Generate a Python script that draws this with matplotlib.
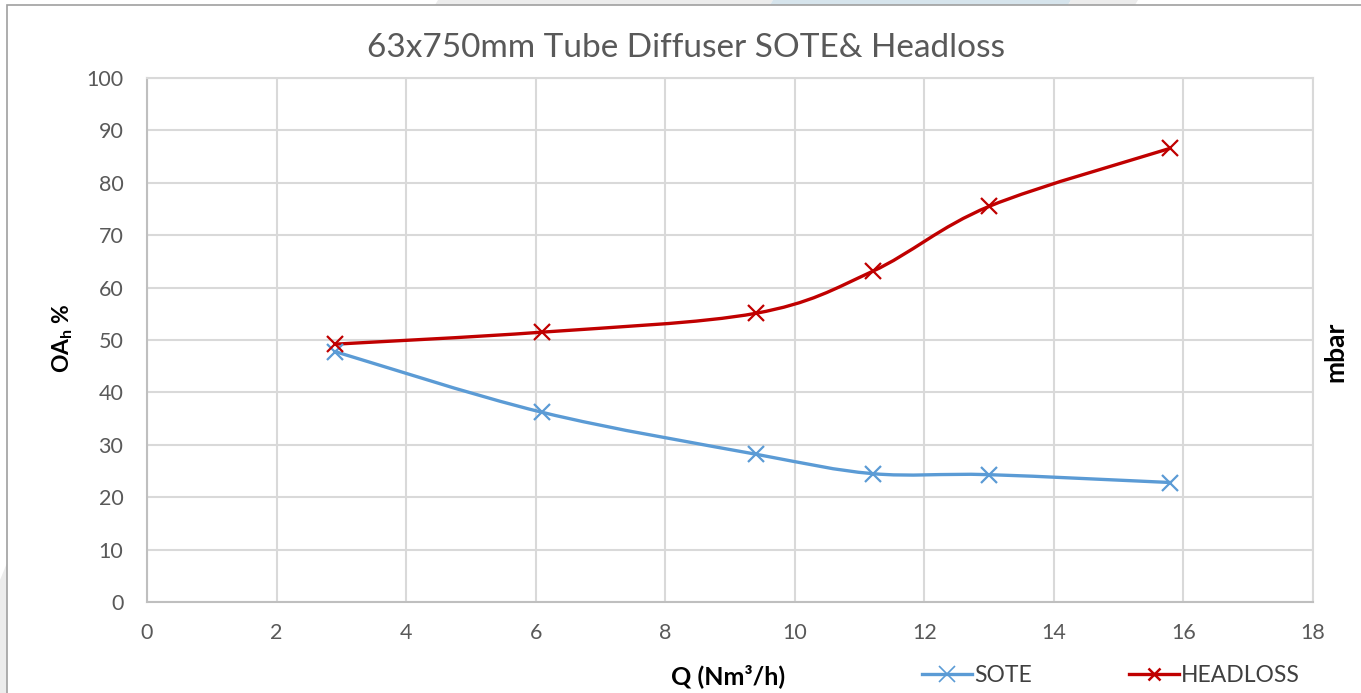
import matplotlib
matplotlib.use("Agg")
import matplotlib.pyplot as plt
from matplotlib.path import Path
from matplotlib.patches import PathPatch, Rectangle, Polygon
from matplotlib.lines import Line2D
import numpy as np

plt.rcParams['font.family'] = ['Lato', 'DejaVu Sans']

title = "63x750mm Tube Diffuser SOTE& Headloss"
q_flow = [2.9, 6.1, 9.4, 11.2, 13.0, 15.8]
sote = [47.8, 36.2, 28.2, 24.5, 24.3, 22.8]
headloss = [49.2, 51.5, 55.1, 63.1, 75.5, 86.6]
x_ticks = [0, 2, 4, 6, 8, 10, 12, 14, 16, 18]
y_ticks = [0, 10, 20, 30, 40, 50, 60, 70, 80, 90, 100]

SOTE_C = '#5B9BD5'
HL_C = '#C00000'

W, H = 1361, 693


def fx(px):
    return px / W


def fy(py):
    return 1 - py / H


fig = plt.figure(figsize=(13.61, 6.93), dpi=100)
fig.patch.set_facecolor('white')

# faint background decorations outside the chart frame
for x0, x1, col in [(435, 770, '#ececec'), (770, 1068, '#d6e4ec'), (1068, 1135, '#ececec')]:
    fig.patches.append(Polygon([(fx(x0 + 3), fy(0)), (fx(x1 + 3), fy(0)), (fx(x1), fy(5)), (fx(x0), fy(5))],
                               closed=True, transform=fig.transFigure, facecolor=col, edgecolor='none'))
fig.patches.append(Polygon([(fx(0), fy(580)), (fx(7), fy(563)), (fx(7), fy(693)), (fx(0), fy(693))],
                           closed=True, transform=fig.transFigure, facecolor='#ececec', edgecolor='none'))
fig.patches.append(Rectangle((fx(7), -0.1), 1.2, 0.1 + fy(5), transform=fig.transFigure,
                             fill=False, edgecolor='#a0a0a0', linewidth=1.2))

ax = fig.add_axes([fx(147), fy(602), (1313 - 147) / W, (602 - 78) / H])
ax.set_xlim(0, 18)
ax.set_ylim(0, 100)
ax.set_xticks(x_ticks)
ax.set_yticks(y_ticks)
ax.grid(True, color='#d9d9d9', linewidth=1.5)
ax.set_axisbelow(True)
for s in ax.spines.values():
    s.set_color('#d9d9d9')
    s.set_linewidth(1.5)
ax.spines['left'].set_color('#bfbfbf')
ax.spines['bottom'].set_color('#bfbfbf')
ax.tick_params(length=0, labelsize=15.5, colors='#595959')
ax.tick_params(axis='y', pad=17)
ax.tick_params(axis='x', pad=15)


def smooth_path(xs, ys):
    pts = np.column_stack([xs, ys]).astype(float)
    n = len(pts)
    verts = [pts[0]]
    codes = [Path.MOVETO]
    for i in range(n - 1):
        p0 = pts[i - 1] if i > 0 else pts[i]
        p1 = pts[i]
        p2 = pts[i + 1]
        p3 = pts[i + 2] if i + 2 < n else pts[i + 1]
        c1 = p1 + (p2 - p0) / 6.0
        c2 = p2 - (p3 - p1) / 6.0
        verts += [c1, c2, p2]
        codes += [Path.CURVE4] * 3
    return Path(verts, codes)


for ys, c in [(sote, SOTE_C), (headloss, HL_C)]:
    ax.add_patch(PathPatch(smooth_path(q_flow, ys), facecolor='none', edgecolor=c,
                           linewidth=2.4, capstyle='round', joinstyle='round', zorder=3))
    ax.plot(q_flow, ys, linestyle='none', marker='x', markersize=11, markeredgewidth=1.6,
            color=c, zorder=4)

fig.text(fx(686), fy(48), title, ha='center', va='center', fontsize=24, color='#595959')
fig.text(fx(63), fy(338), r'OA$_\mathregular{h}$ %', rotation=90, ha='center', va='center',
         fontsize=16.5, fontweight='bold', color='black')
fig.text(fx(1335), fy(352), 'mbar', rotation=90, ha='center', va='center',
         fontsize=19, fontweight='bold', color='black')
fig.text(fx(728), fy(676), 'Q (Nm³/h)', ha='center', va='center',
         fontsize=18, fontweight='bold', color='black')

handles = [Line2D([], [], color=SOTE_C, linewidth=2.4, marker='x', markersize=12, markeredgewidth=1.2),
           Line2D([], [], color=HL_C, linewidth=2.4, marker='x', markersize=9, markeredgewidth=1.8)]
fig.legend(handles, ['SOTE', 'HEADLOSS'], loc='center', bbox_to_anchor=(fx(1111), fy(676)),
           ncol=2, frameon=False, fontsize=16.5, handlelength=2.2, handletextpad=0.1,
           columnspacing=4.2, labelcolor='#404040', borderpad=0, borderaxespad=0)

fig.savefig('out.png', dpi=100, facecolor='white')
